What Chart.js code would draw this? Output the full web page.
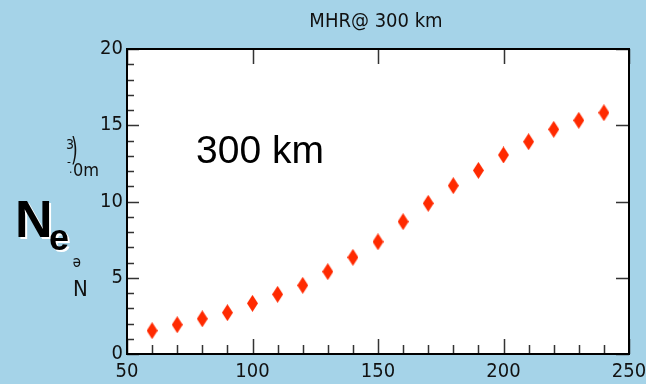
<!DOCTYPE html>
<html>
<head>
<meta charset="utf-8">
<script src="https://cdn.jsdelivr.net/npm/chart.js@4.4.1/dist/chart.umd.min.js"></script>
<style>
    html, body { margin: 0; padding: 0; background: #a5d3e8; }
    #wrap { width: 646px; height: 384px; position: relative; }
</style>
</head>
<body>
<div id="wrap"><canvas id="ne-chart"></canvas></div>
<script>
// Electron density vs. altitude-ish axis
const xValues = [60, 70, 80, 90, 100, 110, 120, 130, 140, 150, 160, 170, 180, 190, 200, 210, 220, 230, 240];
const neValues = [1.53, 1.92, 2.31, 2.71, 3.32, 3.91, 4.5, 5.4, 6.34, 7.36, 8.68, 9.88, 11.04, 12.04, 13.05, 13.92, 14.73, 15.32, 15.82];
const xTicks = [50, 100, 150, 200, 250];
const yTicks = [0, 5, 10, 15, 20];

const NARROW = "'Liberation Sans Narrow', 'DejaVu Sans Condensed', sans-serif";
const SANS = "'Liberation Sans', Arial, sans-serif";

// tall red diamond marker
function makeDiamond(w, h, color) {
    const c = document.createElement('canvas');
    c.width = w;
    c.height = h;
    const g = c.getContext('2d');
    g.fillStyle = color;
    g.beginPath();
    g.moveTo(w / 2, 0);
    g.lineTo(w, h / 2);
    g.lineTo(w / 2, h);
    g.lineTo(0, h / 2);
    g.closePath();
    g.fill();
    return c;
}

const frame = {
    id: 'frame',
    beforeDraw(chart) {
        const { ctx, chartArea: a } = chart;
        ctx.save();
        ctx.fillStyle = '#a5d3e8';
        ctx.fillRect(0, 0, chart.width, chart.height);
        ctx.fillStyle = '#ffffff';
        ctx.fillRect(a.left, a.top, a.right - a.left, a.bottom - a.top);
        ctx.restore();
    },
    afterDraw(chart) {
        const { ctx, chartArea: a } = chart;
        const xs = chart.scales.x, ys = chart.scales.y;
        ctx.save();
        // inward ticks
        ctx.strokeStyle = '#333';
        ctx.lineWidth = 1.5;
        ctx.beginPath();
        for (let v = xTicks[0]; v <= xTicks[xTicks.length - 1]; v += 10) {
            const px = Math.round(xs.getPixelForValue(v)) + 0.5;
            const major = xTicks.includes(v);
            ctx.moveTo(px, a.bottom);
            ctx.lineTo(px, a.bottom - (major ? 15 : 9));
            if (major) {
                ctx.moveTo(px, a.top);
                ctx.lineTo(px, a.top + 15);
            }
        }
        for (let v = yTicks[0]; v <= yTicks[yTicks.length - 1]; v += 1) {
            const py = Math.round(ys.getPixelForValue(v)) + 0.5;
            const major = yTicks.includes(v);
            ctx.moveTo(a.left, py);
            ctx.lineTo(a.left + (major ? 12 : 7), py);
            if (major) {
                ctx.moveTo(a.right, py);
                ctx.lineTo(a.right - 13, py);
            }
        }
        ctx.stroke();

        // plot frame
        ctx.strokeStyle = '#000';
        ctx.lineWidth = 2;
        ctx.strokeRect(a.left, a.top, a.right - a.left, a.bottom - a.top);

        // texts
        ctx.fillStyle = '#111';
        ctx.textBaseline = 'alphabetic';
        ctx.textAlign = 'center';
        ctx.font = '20px ' + NARROW;
        ctx.fillText('MHR@ 300 km', 376, 27);

        ctx.textAlign = 'left';
        ctx.fillStyle = '#000';
        ctx.font = '39px ' + SANS;
        ctx.fillText('300 km', 196, 163);

        // big N_e label with white shadow
        ctx.font = 'bold 52px ' + SANS;
        ctx.fillStyle = '#fff';
        ctx.fillText('N', 17, 239);
        ctx.fillStyle = '#000';
        ctx.fillText('N', 15, 237);
        ctx.font = 'bold 36px ' + SANS;
        ctx.fillStyle = '#fff';
        ctx.fillText('e', 51, 252);
        ctx.fillStyle = '#000';
        ctx.fillText('e', 49, 250);

        // garbled rotated label remnants
        ctx.fillStyle = '#111';
        ctx.font = '14px ' + NARROW;
        ctx.fillText('3', 66, 149);
        ctx.save();
        ctx.translate(71, 160);
        ctx.scale(0.8, 1.3);
        ctx.font = '24px ' + NARROW;
        ctx.fillText(')', 0, 0);
        ctx.restore();
        ctx.font = '12px ' + NARROW;
        ctx.fillText('-', 67, 166);
        ctx.fillText('.', 69, 173);
        ctx.font = '18px ' + NARROW;
        ctx.fillText('0m', 73, 176);
        ctx.font = '22px ' + NARROW;
        ctx.fillText('N', 73, 296);
        ctx.save();
        ctx.translate(81, 258);
        ctx.rotate(Math.PI);
        ctx.font = '15px ' + NARROW;
        ctx.fillText('e', 0, 0);
        ctx.restore();

        ctx.restore();
    }
};

new Chart(document.getElementById('ne-chart').getContext('2d'), {
    type: 'scatter',
    data: {
        datasets: [{
            label: 'Ne',
            data: xValues.map((x, i) => ({ x: x, y: neValues[i] })),
            pointStyle: makeDiamond(11, 17, '#ff2a00'),
            backgroundColor: '#ff2a00',
            borderWidth: 0
        }]
    },
    options: {
        responsive: true,
        maintainAspectRatio: false,
        animation: false,
        layout: { padding: { top: 49, right: 17, left: 0, bottom: 0 } },
        plugins: {
            legend: { display: false },
            tooltip: { enabled: false },
            title: { display: false }
        },
        scales: {
            x: {
                type: 'linear',
                min: xTicks[0],
                max: xTicks[xTicks.length - 1],
                afterBuildTicks: s => { s.ticks = xTicks.map(v => ({ value: v })); },
                afterFit: s => { s.height = 30; s.paddingLeft = 0; s.paddingRight = 0; },
                grid: { display: false, drawTicks: false },
                border: { display: false },
                ticks: {
                    color: '#111',
                    padding: 6,
                    maxRotation: 0,
                    autoSkip: false,
                    font: { family: NARROW, size: 20 }
                }
            },
            y: {
                min: yTicks[0],
                max: yTicks[yTicks.length - 1],
                afterBuildTicks: s => { s.ticks = yTicks.map(v => ({ value: v })); },
                afterFit: s => { s.width = 127; s.paddingTop = 0; s.paddingBottom = 0; },
                grid: { display: false, drawTicks: false },
                border: { display: false },
                ticks: {
                    color: '#111',
                    padding: 4,
                    autoSkip: false,
                    font: { family: NARROW, size: 20 }
                }
            }
        }
    },
    plugins: [frame]
});
</script>
</body>
</html>
